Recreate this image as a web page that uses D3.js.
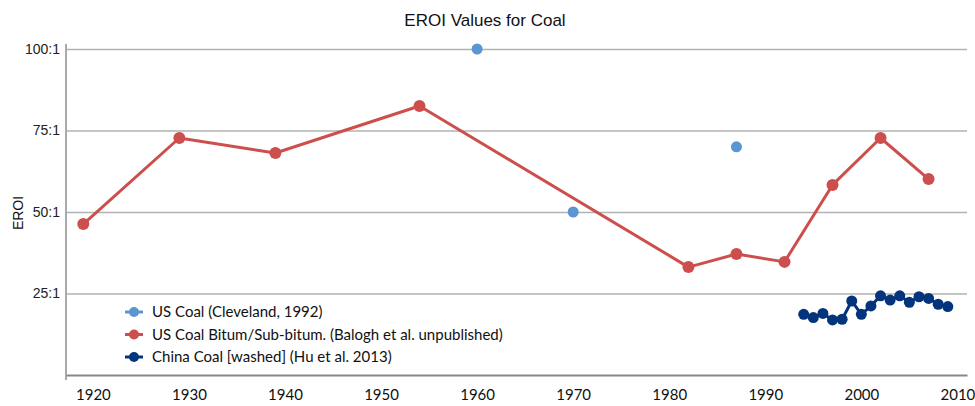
<!DOCTYPE html>
<html>
<head>
<meta charset="utf-8">
<script src="https://cdn.jsdelivr.net/npm/d3@7"></script>
<style>
  body { margin: 0; background: #fff; }
  svg { display: block; }
</style>
</head>
<body>
<div id="chart"></div>
<script>
// data
var clevelandYears = [1960, 1970, 1987];
var clevelandEroi = [100, 50, 70];

var baloghYears = [1919, 1929, 1939, 1954, 1982, 1987, 1992, 1997, 2002, 2007];
var baloghEroi = [46.3, 72.7, 68.1, 82.5, 33.1, 37.1, 34.7, 58.3, 72.7, 60.1];

var chinaYears = [1994, 1995, 1996, 1997, 1998, 1999, 2000, 2001, 2002, 2003, 2004, 2005, 2006, 2007, 2008, 2009];
var chinaEroi = [18.6, 17.6, 18.9, 16.9, 17.1, 22.7, 18.6, 21.2, 24.3, 23.0, 24.3, 22.3, 24.0, 23.5, 21.7, 21.0];

var yearTicks = [1920, 1930, 1940, 1950, 1960, 1970, 1980, 1990, 2000, 2010];
var eroiTicks = [25, 50, 75, 100];
var seriesNames = ["US Coal (Cleveland, 1992)", "US Coal Bitum/Sub-bitum. (Balogh et al. unpublished)", "China Coal [washed] (Hu et al. 2013)"];
var seriesColors = ["#5b96d2", "#cc4f4d", "#04357c"];

var width = 975, height = 406;
// note: "top" is taken by window.top, so use a plot box object
var plot = {left: 66, right: 967, top: 49, bottom: 375};

var svg = d3.select("#chart").append("svg")
  .attr("width", width)
  .attr("height", height);

var x = d3.scaleLinear().domain([1917.2, 2011]).range([plot.left, plot.right]);
var y = d3.scaleLinear().domain([0, 100]).range([plot.bottom, plot.top]);

// gridlines + y labels
var yAxis = svg.append("g")
  .attr("transform", "translate(" + plot.left + ",0)")
  .call(d3.axisLeft(y).tickValues(eroiTicks).tickSize(-(plot.right - plot.left)).tickPadding(6)
    .tickFormat(function(d) { return d + ":1"; }));
yAxis.select(".domain").remove();
yAxis.selectAll(".tick line").attr("stroke", "#b2b2b2").attr("stroke-width", 1.5);
yAxis.selectAll(".tick text")
  .attr("x", -6)
  .style("font-family", "Liberation Sans, Arial, sans-serif")
  .style("font-size", "14px")
  .attr("fill", "#222");

// left axis line
svg.append("line")
  .attr("x1", plot.left).attr("x2", plot.left)
  .attr("y1", plot.top - 5).attr("y2", plot.bottom + 5)
  .attr("stroke", "#aaa").attr("stroke-width", 2);

// x axis
var xAxis = svg.append("g")
  .attr("transform", "translate(0," + plot.bottom + ")")
  .call(d3.axisBottom(x).tickValues(yearTicks).tickSize(0).tickPadding(14).tickFormat(d3.format("d")));
xAxis.select(".domain").attr("stroke", "#888").attr("stroke-width", 2);
xAxis.selectAll(".tick text")
  .style("font-family", "Lato, sans-serif")
  .style("font-size", "15px")
  .attr("fill", "#111");

// title
svg.append("text")
  .attr("x", 485).attr("y", 26)
  .attr("text-anchor", "middle")
  .style("font-family", "Liberation Sans, Arial, sans-serif")
  .style("font-size", "17px")
  .attr("fill", "#111")
  .text("EROI Values for Coal");

// y title
svg.append("text")
  .attr("transform", "translate(23,213) rotate(-90)")
  .attr("text-anchor", "middle")
  .style("font-family", "Liberation Sans, Arial, sans-serif")
  .style("font-size", "14px")
  .attr("fill", "#111")
  .text("EROI");

var line = d3.line()
  .x(function(d) { return x(d[0]); })
  .y(function(d) { return y(d[1]); });

function drawSeries(years, vals, color, r, withLine) {
  var pts = d3.zip(years, vals);
  var g = svg.append("g");
  if (withLine) {
    g.append("path")
      .datum(pts)
      .attr("d", line)
      .attr("fill", "none")
      .attr("stroke", color)
      .attr("stroke-width", 3)
      .attr("stroke-linejoin", "round");
  }
  g.selectAll("circle").data(pts)
    .enter()
    .append("circle")
    .attr("cx", function(d) { return x(d[0]); })
    .attr("cy", function(d) { return y(d[1]); })
    .attr("r", r)
    .attr("fill", color);
}

drawSeries(baloghYears, baloghEroi, seriesColors[1], 6, true);
drawSeries(chinaYears, chinaEroi, seriesColors[2], 5.5, true);
drawSeries(clevelandYears, clevelandEroi, seriesColors[0], 5.5, false);

// legend
var legend = svg.append("g").attr("transform", "translate(134,312)");
legend.selectAll("g").data(seriesNames)
  .enter()
  .append("g")
  .each(function(d, i) {
    var g = d3.select(this).attr("transform", "translate(0," + (i * 22.5) + ")");
    g.append("line")
      .attr("x1", -9).attr("x2", 9)
      .attr("stroke", seriesColors[i]).attr("stroke-width", 3);
    g.append("circle")
      .attr("r", 5)
      .attr("fill", seriesColors[i]);
    g.append("text")
      .attr("x", 18)
      .attr("y", 5)
      .style("font-family", "Lato, sans-serif")
      .style("font-size", "15px")
      .attr("fill", "#111")
      .text(d);
  });
</script>
</body>
</html>
